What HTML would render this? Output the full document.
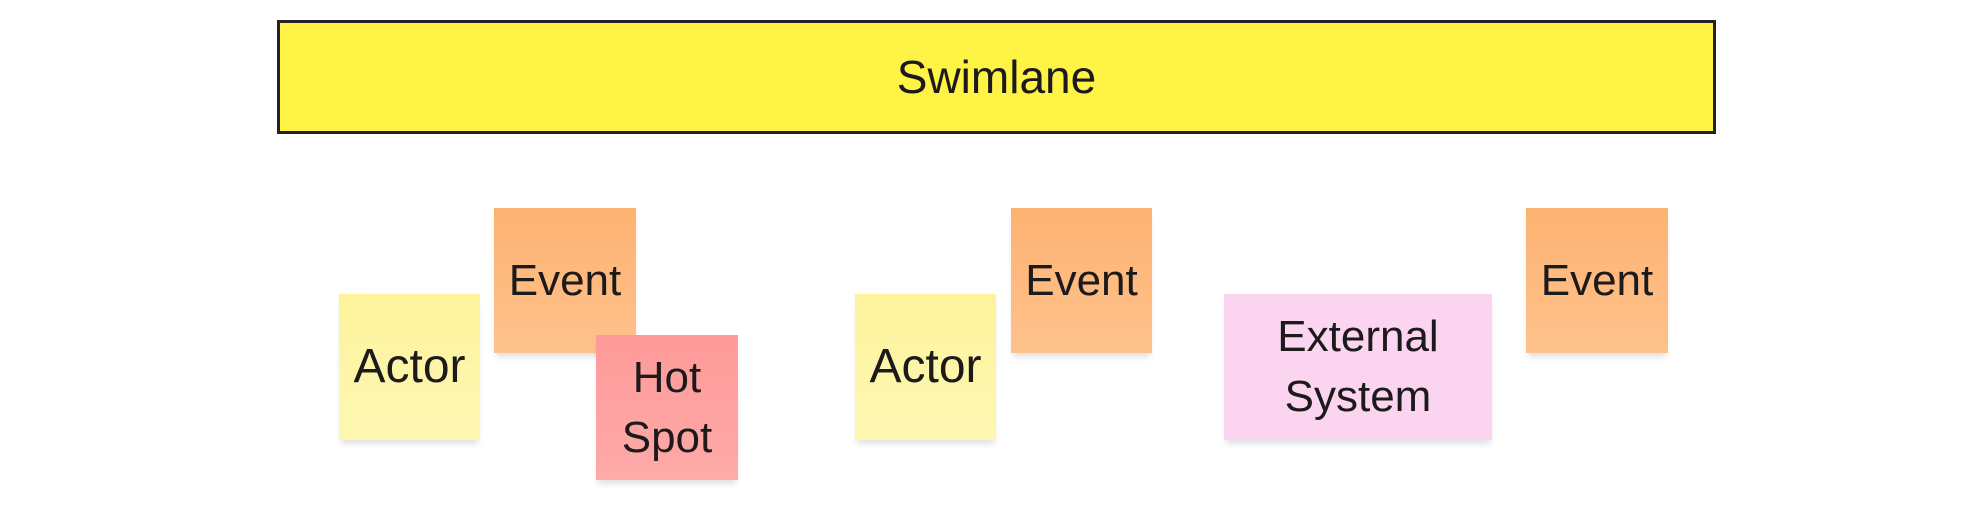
<!DOCTYPE html>
<html><head><style>
body{margin:0;width:1977px;height:514px;background:#fff;position:relative;overflow:hidden;font-family:"Liberation Sans",sans-serif;color:#1c1a1a}
.n{position:absolute;display:flex;align-items:center;justify-content:center;text-align:center;font-size:44px;line-height:60px;box-shadow:0 6px 6px -2px rgba(0,0,0,0.12)}
.sw{position:absolute;left:277px;top:20px;width:1433px;height:108px;background:#fff345;border:3px solid #222;display:flex;align-items:center;justify-content:center;font-size:46px}
.ev{background:linear-gradient(#fdb271,#fec28c)}
.ac{background:linear-gradient(#fdf39c,#fdf7b2);font-size:48px}
.hs{background:linear-gradient(#fe9a99,#fdaaa8)}
.ex{background:#fbd4f0}
</style></head><body>
<div class="sw">Swimlane</div>
<div class="n ev" style="left:494px;top:208px;width:142px;height:145px">Event</div>
<div class="n ac" style="left:339px;top:294px;width:141px;height:146px">Actor</div>
<div class="n hs" style="left:596px;top:335px;width:142px;height:145px">Hot<br>Spot</div>
<div class="n ac" style="left:855px;top:294px;width:141px;height:146px">Actor</div>
<div class="n ev" style="left:1011px;top:208px;width:141px;height:145px">Event</div>
<div class="n ex" style="left:1224px;top:294px;width:268px;height:146px">External<br>System</div>
<div class="n ev" style="left:1526px;top:208px;width:142px;height:145px">Event</div>
</body></html>
